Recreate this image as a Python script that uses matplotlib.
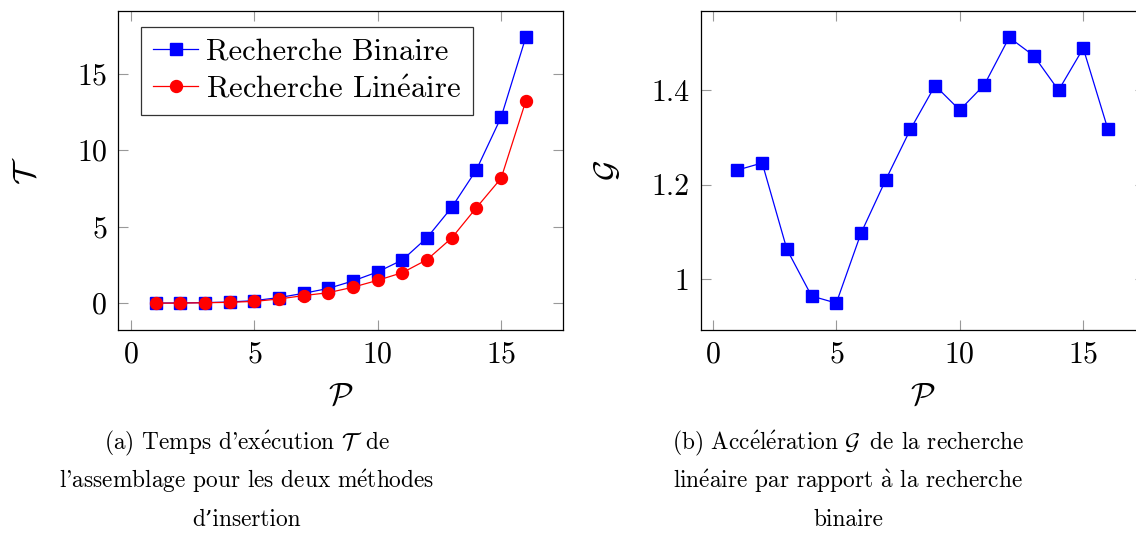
import numpy as np
import matplotlib
matplotlib.use('Agg')
import matplotlib.pyplot as plt

plt.rcParams['font.family'] = ['cmr10', 'DejaVu Serif']
plt.rcParams['mathtext.fontset'] = 'cm'
plt.rcParams['axes.formatter.use_mathtext'] = True

# nombre de processus
procs = np.arange(1, 17)

# temps d'assemblage (s)
t_binaire = [0.01, 0.02, 0.04, 0.08, 0.17, 0.37, 0.65, 0.97, 1.46, 2.05, 2.83, 4.29, 6.27, 8.73, 12.16, 17.39]
t_lineaire = [0.005, 0.01, 0.03, 0.06, 0.12, 0.28, 0.50, 0.69, 1.05, 1.50, 2.00, 2.85, 4.27, 6.25, 8.17, 13.22]

# acceleration lineaire / binaire
acceleration = [1.231, 1.246, 1.063, 0.964, 0.949, 1.097, 1.210, 1.317, 1.410, 1.358, 1.412, 1.512, 1.473, 1.400, 1.489, 1.317]

xticks = [0, 5, 10, 15]
yticks_t = [0, 5, 10, 15]
yticks_g = [1.0, 1.2, 1.4]
yticklabels_g = ['1', '1.2', '1.4']

# accents via mathtext, cmr10 n'a pas ces glyphes
E = r'$\mathrm{\acute{e}}$'
A = r'$\mathrm{\grave{a}}$'
Q = "'"

leg_labels = ['Recherche Binaire', 'Recherche Lin' + E + 'aire']
caption_a = ['(a) Temps d' + Q + 'ex' + E + r'cution $\mathcal{T}\,$ de',
             'l' + Q + 'assemblage pour les deux m' + E + 'thodes',
             'd\u2019insertion']
caption_b = ['(b) Acc' + E + 'l' + E + r'ration $\mathcal{G}\,$ de la recherche',
             'lin' + E + 'aire par rapport ' + A + ' la recherche',
             'binaire']

W, H = 1136, 533
fig = plt.figure(figsize=(W / 100, H / 100), dpi=100)

tick_font = 21.5
leg_font = 22
label_font = 23
cap_font = 16.8

def px_axes(x0, x1, y0, y1):
    return fig.add_axes([x0 / W, 1 - y1 / H, (x1 - x0) / W, (y1 - y0) / H])

def style(ax):
    for s in ax.spines.values():
        s.set_linewidth(0.9)
        s.set_color('black')
    ax.tick_params(direction='in', length=7.5, width=0.8, color='#999999',
                   top=True, right=True, labelsize=tick_font, pad=8)

# (a) temps
ax1 = px_axes(118.3, 563.3, 11, 330)
ax1.plot(procs, t_binaire, color='blue', marker='s', markersize=8.6, lw=0.9,
         label=leg_labels[0])
ax1.plot(procs, t_lineaire, color='red', marker='o', markersize=8.6, lw=0.9,
         label=leg_labels[1])
ax1.set_xlim(-0.52, 17.52)
ax1.set_ylim(-1.75, 19.1)
ax1.set_xticks(xticks)
ax1.set_yticks(yticks_t)
style(ax1)
ax1.set_xlabel(r'$\mathcal{P}$', fontsize=label_font, labelpad=10)
ax1.set_ylabel(r'$\mathcal{T}$', fontsize=label_font, labelpad=25)
leg = ax1.legend(loc='upper left', bbox_to_anchor=(0.051, 0.951), borderaxespad=0,
                 fontsize=leg_font, frameon=True, fancybox=False,
                 edgecolor='black', handlelength=1.5, handletextpad=0.25,
                 borderpad=0.38, labelspacing=0.32)
leg.get_frame().set_linewidth(0.9)

# (b) acceleration
ax2 = px_axes(700.7, 1145, 11, 330)
ax2.plot(procs, acceleration, color='blue', marker='s', markersize=8.6, lw=0.9)
ax2.set_xlim(-0.49, 17.5)
ax2.set_ylim(0.892, 1.568)
ax2.set_xticks(xticks)
ax2.set_yticks(yticks_g)
ax2.set_yticklabels(yticklabels_g)
style(ax2)
ax2.set_xlabel(r'$\mathcal{P}$', fontsize=label_font, labelpad=10)
ax2.set_ylabel(r'$\mathcal{G}$', fontsize=label_font, labelpad=21)

# legendes des sous-figures
for cx, lines in ((247, caption_a), (848, caption_b)):
    for i, line in enumerate(lines):
        fig.text(cx / W, 1 - (443.3 + 38.4 * i) / H, line, ha='center', va='center',
                 fontsize=cap_font)

fig.savefig('out.png', dpi=100)
